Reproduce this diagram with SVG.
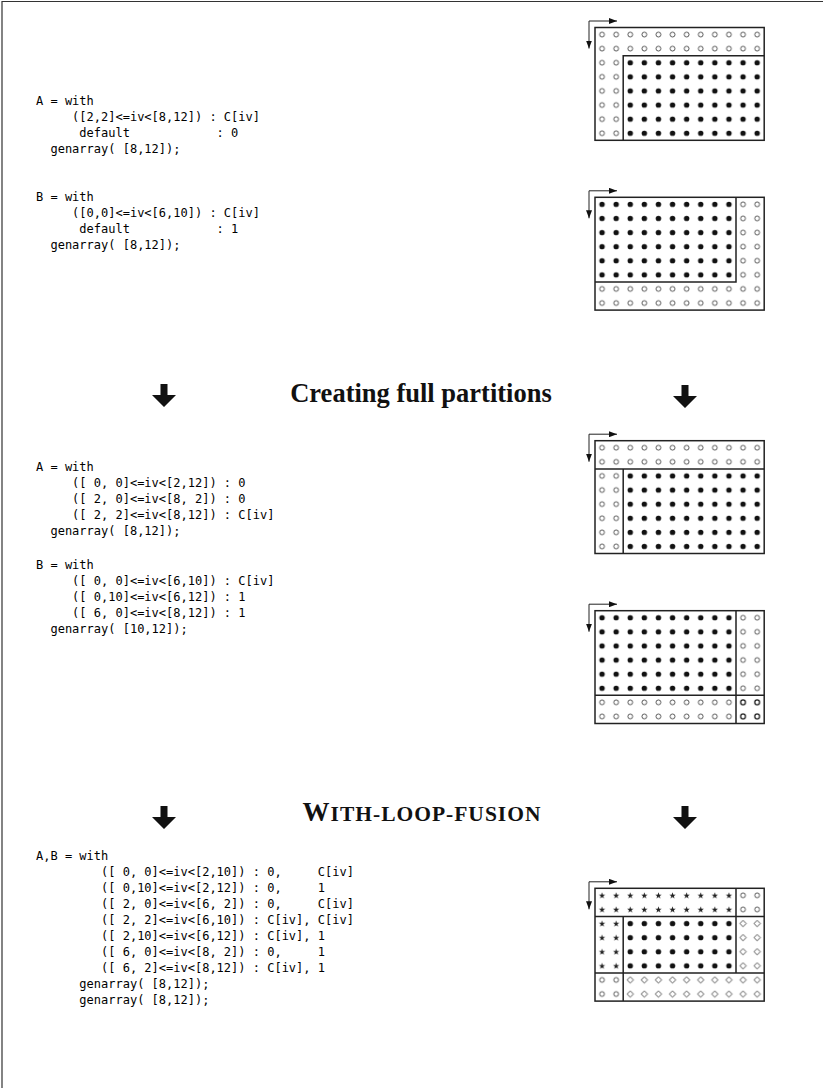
<svg xmlns="http://www.w3.org/2000/svg" width="823" height="1088" viewBox="0 0 823 1088">
  <style>
    .code { font-family: "DejaVu Sans Mono", "Liberation Mono", monospace; font-size: 12px; fill: #000; white-space: pre; }
    .head { font-family: "Liberation Serif", "Times New Roman", serif; font-weight: bold; fill: #111; }
    .frame { stroke: #333; stroke-width: 1.2; fill: none; }
    .outline { fill: none; stroke: #222; stroke-width: 1.5; }
    .part { fill: none; stroke: #222; stroke-width: 1.5; }
    .axis { fill: none; stroke: #222; stroke-width: 1; marker-start: url(#ah); marker-end: url(#ah); }
  </style>
  <defs>
    <marker id="ah" markerUnits="userSpaceOnUse" markerWidth="9" markerHeight="6" refX="8" refY="3" orient="auto-start-reverse">
      <path d="M0,0 L8,3 L0,6 z" fill="#111"/>
    </marker>
    <!-- one cell = 14.1 px; each pattern holds one element marker -->
    <pattern id="pO" patternUnits="userSpaceOnUse" width="14.1" height="14.1">
      <circle cx="7.05" cy="7.05" r="2.4" fill="#fff" stroke="#444" stroke-width="0.9"/>
    </pattern>
    <pattern id="pOb" patternUnits="userSpaceOnUse" width="14.1" height="14.1">
      <circle cx="7.05" cy="7.05" r="2.4" fill="#fff" stroke="#111" stroke-width="1.2"/>
    </pattern>
    <pattern id="pF" patternUnits="userSpaceOnUse" width="14.1" height="14.1">
      <circle cx="7.05" cy="7.05" r="2.7" fill="#111"/>
    </pattern>
    <pattern id="pS" patternUnits="userSpaceOnUse" width="14.1" height="14.1">
      <polygon transform="translate(7.05,7.4)" fill="#222" points="0,-3.3 0.823,-1.133 3.138,-1.02 1.331,0.433 1.94,2.67 0,1.4 -1.94,2.67 -1.331,0.433 -3.138,-1.02 -0.823,-1.133"/>
    </pattern>
    <pattern id="pD" patternUnits="userSpaceOnUse" width="14.1" height="14.1">
      <polygon transform="translate(7.05,7.05)" fill="none" stroke="#444" stroke-width="0.9" points="0,-3.2 3.2,0 0,3.2 -3.2,0"/>
    </pattern>
    <path id="barrow" d="M-3.5,0 h7 v11 h8.5 l-12,12 l-12,-12 h8.5 z" fill="#111"/>
  </defs>

  <!-- page frame -->
  <path class="frame" d="M2,1088 V1.5 H823"/>

  <!-- code: original with-loops -->
  <g id="codeA1">
    <text class="code" x="36" y="105">A = with</text>
    <text class="code" x="36" y="121">     ([2,2]&lt;=iv&lt;[8,12]) : C[iv]</text>
    <text class="code" x="36" y="137">      default            : 0</text>
    <text class="code" x="36" y="153">  genarray( [8,12]);</text>
  </g>
  <g id="codeB1">
    <text class="code" x="36" y="201">B = with</text>
    <text class="code" x="36" y="217">     ([0,0]&lt;=iv&lt;[6,10]) : C[iv]</text>
    <text class="code" x="36" y="233">      default            : 1</text>
    <text class="code" x="36" y="249">  genarray( [8,12]);</text>
  </g>

  <!-- code: full partitions -->
  <g id="codeA2">
    <text class="code" x="36" y="471">A = with</text>
    <text class="code" x="36" y="487">     ([ 0, 0]&lt;=iv&lt;[2,12]) : 0</text>
    <text class="code" x="36" y="503">     ([ 2, 0]&lt;=iv&lt;[8, 2]) : 0</text>
    <text class="code" x="36" y="519">     ([ 2, 2]&lt;=iv&lt;[8,12]) : C[iv]</text>
    <text class="code" x="36" y="535">  genarray( [8,12]);</text>
  </g>
  <g id="codeB2">
    <text class="code" x="36" y="569">B = with</text>
    <text class="code" x="36" y="585">     ([ 0, 0]&lt;=iv&lt;[6,10]) : C[iv]</text>
    <text class="code" x="36" y="601">     ([ 0,10]&lt;=iv&lt;[6,12]) : 1</text>
    <text class="code" x="36" y="617">     ([ 6, 0]&lt;=iv&lt;[8,12]) : 1</text>
    <text class="code" x="36" y="633">  genarray( [10,12]);</text>
  </g>

  <!-- code: fused with-loop -->
  <g id="codeAB">
    <text class="code" x="36" y="860">A,B = with</text>
    <text class="code" x="36" y="876">         ([ 0, 0]&lt;=iv&lt;[2,10]) : 0,     C[iv]</text>
    <text class="code" x="36" y="892">         ([ 0,10]&lt;=iv&lt;[2,12]) : 0,     1</text>
    <text class="code" x="36" y="908">         ([ 2, 0]&lt;=iv&lt;[6, 2]) : 0,     C[iv]</text>
    <text class="code" x="36" y="924">         ([ 2, 2]&lt;=iv&lt;[6,10]) : C[iv], C[iv]</text>
    <text class="code" x="36" y="940">         ([ 2,10]&lt;=iv&lt;[6,12]) : C[iv], 1</text>
    <text class="code" x="36" y="956">         ([ 6, 0]&lt;=iv&lt;[8, 2]) : 0,     1</text>
    <text class="code" x="36" y="972">         ([ 6, 2]&lt;=iv&lt;[8,12]) : C[iv], 1</text>
    <text class="code" x="36" y="988">      genarray( [8,12]);</text>
    <text class="code" x="36" y="1004">      genarray( [8,12]);</text>
  </g>

  <!-- step headings -->
  <g id="step1">
    <text class="head" x="421" y="402" font-size="26.5" text-anchor="middle">Creating full partitions</text>
  </g>
  <g id="step2">
    <text class="head" x="422" y="821" text-anchor="middle" letter-spacing="1"><tspan font-size="27">W</tspan><tspan font-size="21.5">ITH-LOOP-FUSION</tspan></text>
  </g>

  <!-- 12x8 index grids -->
  <g id="gridA1" transform="translate(595,27.5)">
    <path class="axis" d="M-6,21 V-6.5 H22"/>
    <rect x="0" y="0" width="169.2" height="28.2" fill="url(#pO)"/>
    <rect x="0" y="28.2" width="28.2" height="84.6" fill="url(#pO)"/>
    <rect x="28.2" y="28.2" width="141" height="84.6" fill="url(#pF)"/>
    <path class="part" d="M28.2,112.8 V28.2 H169.2"/>
    <rect class="outline" x="0" y="0" width="169.2" height="112.8"/>
  </g>
  <g id="gridB1" transform="translate(595,197.3)">
    <path class="axis" d="M-6,21 V-6.5 H22"/>
    <rect x="0" y="0" width="141" height="84.6" fill="url(#pF)"/>
    <rect x="141" y="0" width="28.2" height="84.6" fill="url(#pO)"/>
    <rect x="0" y="84.6" width="169.2" height="28.2" fill="url(#pO)"/>
    <path class="part" d="M0,84.6 H141 V0"/>
    <rect class="outline" x="0" y="0" width="169.2" height="112.8"/>
  </g>
  <g id="gridA2" transform="translate(595,440.7)">
    <path class="axis" d="M-6,21 V-6.5 H22"/>
    <rect x="0" y="0" width="169.2" height="28.2" fill="url(#pO)"/>
    <rect x="0" y="28.2" width="28.2" height="84.6" fill="url(#pO)"/>
    <rect x="28.2" y="28.2" width="141" height="84.6" fill="url(#pF)"/>
    <path class="part" d="M0,28.2 H169.2 M28.2,28.2 V112.8"/>
    <rect class="outline" x="0" y="0" width="169.2" height="112.8"/>
  </g>
  <g id="gridB2" transform="translate(595,610.7)">
    <path class="axis" d="M-6,21 V-6.5 H22"/>
    <rect x="0" y="0" width="141" height="84.6" fill="url(#pF)"/>
    <rect x="141" y="0" width="28.2" height="84.6" fill="url(#pO)"/>
    <rect x="0" y="84.6" width="141" height="28.2" fill="url(#pO)"/>
    <rect x="141" y="84.6" width="28.2" height="28.2" fill="url(#pOb)"/>
    <path class="part" d="M0,84.6 H169.2 M141,0 V112.8"/>
    <rect class="outline" x="0" y="0" width="169.2" height="112.8"/>
  </g>
  <g id="gridAB" transform="translate(595,888.3)">
    <path class="axis" d="M-6,21 V-6.5 H22"/>
    <rect x="0" y="0" width="141" height="28.2" fill="url(#pS)"/>
    <rect x="141" y="0" width="28.2" height="28.2" fill="url(#pO)"/>
    <rect x="0" y="28.2" width="28.2" height="56.4" fill="url(#pS)"/>
    <rect x="28.2" y="28.2" width="112.8" height="56.4" fill="url(#pF)"/>
    <rect x="141" y="28.2" width="28.2" height="56.4" fill="url(#pD)"/>
    <rect x="0" y="84.6" width="28.2" height="28.2" fill="url(#pO)"/>
    <rect x="28.2" y="84.6" width="141" height="28.2" fill="url(#pD)"/>
    <path class="part" d="M0,28.2 H169.2 M0,84.6 H169.2 M141,0 V84.6 M28.2,28.2 V112.8"/>
    <rect class="outline" x="0" y="0" width="169.2" height="112.8"/>
  </g>

  <!-- transformation step arrows -->
  <g id="connectors">
    <use href="#barrow" x="164" y="384"/>
    <use href="#barrow" x="685" y="385"/>
    <use href="#barrow" x="164" y="806"/>
    <use href="#barrow" x="685" y="806"/>
  </g>
</svg>
